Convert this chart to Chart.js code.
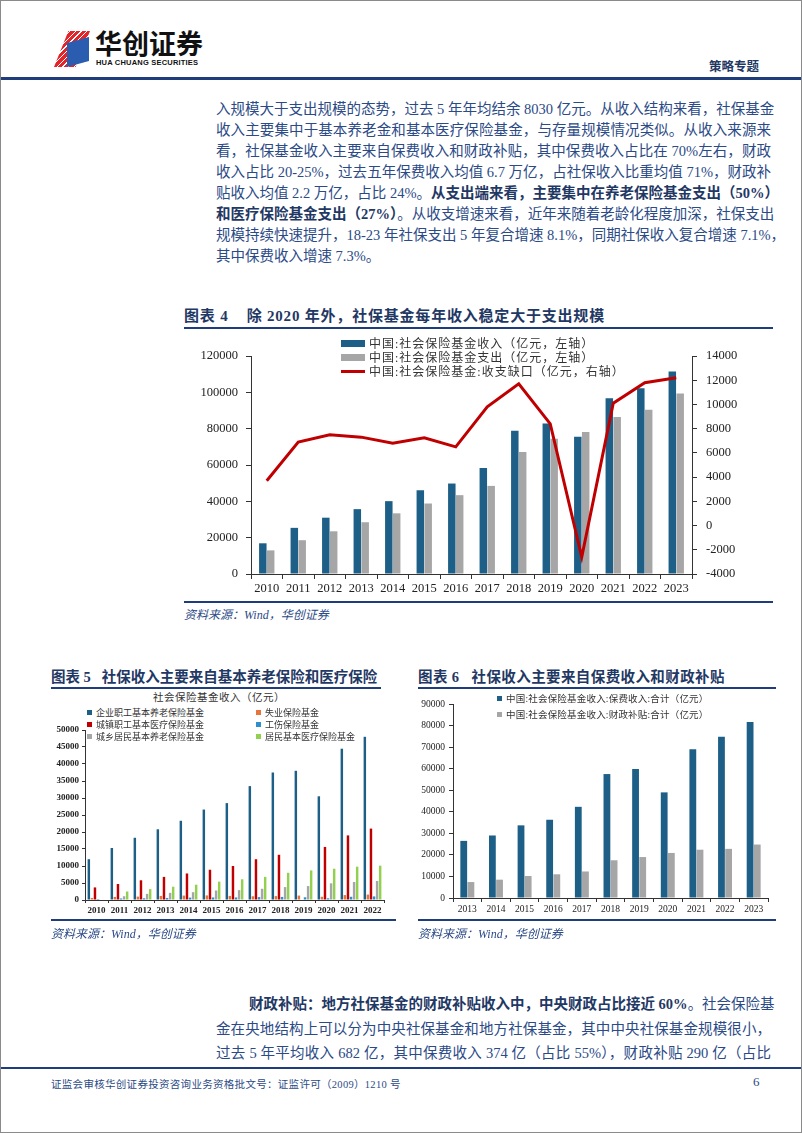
<!DOCTYPE html>
<html lang="zh-CN">
<head>
<meta charset="utf-8">
<script src="https://cdn.jsdelivr.net/npm/chart.js@4.4.1/dist/chart.umd.min.js"></script>
<style>
  html, body { margin: 0; padding: 0; background: #fff; }
  #page {
    position: relative; width: 800px; height: 1131px;
    border: 1px solid #8a8a8a; overflow: hidden;
    font-family: 'Liberation Serif', 'Noto Sans CJK SC', serif;
    color: #2b4a86;
  }
  .abs { position: absolute; white-space: nowrap; }
  .hline { position: absolute; background: #1f3d7a; }
  .linea { position: absolute; left: 215px; width: 555px; font-size: 14.5px; line-height: 20px;
    text-align: justify; text-align-last: justify; white-space: nowrap; }
  .linea.ult { text-align-last: left; }
  .linea b { color: #1f3864; }
  .titulo { position: absolute; font-size: 14.5px; font-weight: bold; color: #1f3864; white-space: nowrap; }
  .fuente { position: absolute; font-size: 12px; font-style: italic; color: #2b4a86; white-space: nowrap; }
  canvas { position: absolute; }
  .ley { position: absolute; white-space: nowrap; color: #333; display: flex; align-items: center; }
  .ley i { display: inline-block; margin-right: 4px; }
</style>
</head>
<body>
<div id="page">
  <!-- Cabecera -->
  <div class="abs" style="left:53px;top:30px;width:36px;height:36px;
    background: repeating-linear-gradient(135deg, #e0262b 0 3px, #fff 3px 4px);
    clip-path: polygon(40% 0, 100% 0, 60% 100%, 0 100%);"></div>
  <div class="abs" style="left:66px;top:36px;width:22px;height:30px;background:#2a5db0;
    clip-path: polygon(0 20%, 100% 0, 100% 80%, 0 100%);"></div>
  <div class="abs" style="left:94px;top:27px;font-size:27px;font-weight:bold;color:#111;letter-spacing:0px;
    font-family:'Noto Sans CJK SC';line-height:30px;">华创证券</div>
  <div class="abs" style="left:95px;top:57px;font-size:7.5px;font-weight:bold;color:#111;
    font-family:'Liberation Sans';letter-spacing:0.2px;">HUA CHUANG SECURITIES</div>
  <div class="abs" style="left:708px;top:55px;font-size:12.5px;font-weight:bold;color:#1f3864;">策略专题</div>
  <div class="hline" style="left:0;top:76px;width:800px;height:3px;"></div>

  <!-- Texto superior -->
  <div class="linea" style="top:98px;">入规模大于支出规模的态势，过去 5 年年均结余 8030 亿元。从收入结构来看，社保基金</div>
  <div class="linea" style="top:119px;">收入主要集中于基本养老金和基本医疗保险基金，与存量规模情况类似。从收入来源来</div>
  <div class="linea" style="top:140px;">看，社保基金收入主要来自保费收入和财政补贴，其中保费收入占比在 70%左右，财政</div>
  <div class="linea" style="top:161px;">收入占比 20-25%，过去五年保费收入均值 6.7 万亿，占社保收入比重均值 71%，财政补</div>
  <div class="linea" style="top:182px;">贴收入均值 2.2 万亿，占比 24%。<b>从支出端来看，主要集中在养老保险基金支出（50%）</b></div>
  <div class="linea" style="top:203px;"><b>和医疗保险基金支出（27%）</b>。从收支增速来看，近年来随着老龄化程度加深，社保支出</div>
  <div class="linea" style="top:224px;">规模持续快速提升，18-23 年社保支出 5 年复合增速 8.1%，同期社保收入复合增速 7.1%，</div>
  <div class="linea ult" style="top:245px;">其中保费收入增速 7.3%。</div>

  <!-- Grafico 4 -->
  <div class="titulo" style="left:183px;top:303px;font-size:15px;letter-spacing:0.8px;">图表 4&nbsp;&nbsp;&nbsp;&nbsp;除 2020 年外，社保基金每年收入稳定大于支出规模</div>
  <div class="hline" style="left:183px;top:326px;width:589px;height:1.5px;"></div>
  <canvas id="grafico4" width="561" height="263" style="left:190px;top:335px;"></canvas>
  <div class="ley" style="left:340px;top:333px;font-size:12px;letter-spacing:1px;"><i style="width:24px;height:7px;background:#1d5f87;"></i>中国:社会保险基金收入（亿元，左轴）</div>
  <div class="ley" style="left:340px;top:347px;font-size:12px;letter-spacing:1px;"><i style="width:24px;height:7px;background:#a6a6a6;"></i>中国:社会保险基金支出（亿元，左轴）</div>
  <div class="ley" style="left:340px;top:361px;font-size:12px;letter-spacing:1px;"><i style="width:24px;height:3px;background:#c00000;"></i>中国:社会保险基金:收支缺口（亿元，右轴）</div>
  <div class="hline" style="left:183px;top:600px;width:589px;height:1.5px;"></div>
  <div class="fuente" style="left:183px;top:604px;">资料来源：Wind，华创证券</div>

  <!-- Grafico 5 -->
  <div class="titulo" style="left:50px;top:664px;">图表 5&nbsp;&nbsp;&nbsp;社保收入主要来自基本养老保险和医疗保险</div>
  <div class="hline" style="left:50px;top:686px;width:330px;height:1.5px;"></div>
  <div class="abs" style="left:152px;top:688px;font-size:10.5px;color:#333;letter-spacing:0.5px;">社会保险基金收入（亿元）</div>
  <canvas id="grafico5" width="345" height="199" style="left:40px;top:720px;"></canvas>
  <div class="ley" style="left:86px;top:705px;font-size:9px;"><i style="width:5px;height:5px;background:#1d5f87;"></i>企业职工基本养老保险基金</div>
  <div class="ley" style="left:86px;top:717px;font-size:9px;"><i style="width:5px;height:5px;background:#c00000;"></i>城镇职工基本医疗保险基金</div>
  <div class="ley" style="left:86px;top:729px;font-size:9px;"><i style="width:5px;height:5px;background:#a6a6a6;"></i>城乡居民基本养老保险基金</div>
  <div class="ley" style="left:255px;top:705px;font-size:9px;"><i style="width:5px;height:5px;background:#e8743b;"></i>失业保险基金</div>
  <div class="ley" style="left:255px;top:717px;font-size:9px;"><i style="width:5px;height:5px;background:#2e8fce;"></i>工伤保险基金</div>
  <div class="ley" style="left:255px;top:729px;font-size:9px;"><i style="width:5px;height:5px;background:#92d050;"></i>居民基本医疗保险基金</div>
  <div class="hline" style="left:50px;top:918px;width:345px;height:1.5px;"></div>
  <div class="fuente" style="left:50px;top:923px;">资料来源：Wind，华创证券</div>

  <!-- Grafico 6 -->
  <div class="titulo" style="left:417px;top:664px;letter-spacing:0.4px;">图表 6&nbsp;&nbsp;&nbsp;社保收入主要来自保费收入和财政补贴</div>
  <div class="hline" style="left:417px;top:686px;width:358px;height:1.5px;"></div>
  <canvas id="grafico6" width="360" height="224" style="left:410px;top:693px;"></canvas>
  <div class="ley" style="left:496px;top:690px;font-size:9.5px;letter-spacing:0.2px;"><i style="width:5px;height:5px;background:#1d5f87;"></i>中国:社会保险基金收入:保费收入:合计（亿元）</div>
  <div class="ley" style="left:496px;top:706px;font-size:9.5px;letter-spacing:0.2px;"><i style="width:5px;height:5px;background:#a6a6a6;"></i>中国:社会保险基金收入:财政补贴:合计（亿元）</div>
  <div class="hline" style="left:417px;top:918px;width:358px;height:1.5px;"></div>
  <div class="fuente" style="left:417px;top:923px;">资料来源：Wind，华创证券</div>

  <!-- Texto inferior -->
  <div class="linea" style="top:993px;left:248px;width:522px;"><b>财政补贴：地方社保基金的财政补贴收入中，中央财政占比接近 60%</b>。社会保险基</div>
  <div class="linea" style="top:1018px;">金在央地结构上可以分为中央社保基金和地方社保基金，其中中央社保基金规模很小，</div>
  <div class="linea" style="top:1042px;">过去 5 年平均收入 682 亿，其中保费收入 374 亿（占比 55%），财政补贴 290 亿（占比</div>

  <!-- Pie de pagina -->
  <div class="hline" style="left:0;top:1066px;width:800px;height:2px;"></div>
  <div class="abs" style="left:50px;top:1075px;font-size:10.5px;color:#2b4a86;letter-spacing:0.3px;">证监会审核华创证券投资咨询业务资格批文号：证监许可（2009）1210 号</div>
  <div class="abs" style="left:752px;top:1073px;font-size:13px;color:#2b4a86;">6</div>
</div>

<script>
// ---- Datos gráfico 4 ----
const anios4 = ['2010','2011','2012','2013','2014','2015','2016','2017','2018','2019','2020','2021','2022','2023'];
const ingresos4 = [16900, 25400, 31000, 35700, 40100, 46100, 49800, 58300, 78800, 82900, 75500, 96700, 102200, 111400];
const gastos4 = [13000, 18600, 23500, 28500, 33400, 38800, 43400, 48500, 67100, 74400, 78100, 86400, 90400, 99300];
const brecha4 = [3700, 6900, 7500, 7300, 6800, 7250, 6500, 9800, 11700, 8400, -2600, 10100, 11800, 12200];

// ---- Datos gráfico 5 ----
const anios5 = ['2010','2011','2012','2013','2014','2015','2016','2017','2018','2019','2020','2021','2022'];
const empresaPension = [12000, 15300, 18300, 20800, 23300, 26600, 28500, 33500, 37500, 38000, 30500, 44500, 48000];
const desempleo = [600, 900, 1000, 1200, 1300, 1350, 1200, 1100, 1150, 1300, 950, 1450, 1600];
const medicoUrbano = [3700, 4700, 5800, 6800, 7800, 8900, 10000, 12000, 13300, null, 15600, 19000, 21000];
const accidentes = [300, 450, 500, 600, 700, 750, 750, 850, 900, 800, 500, 950, 1050];
const pensionRural = [null, 1100, 1800, 2100, 2300, 2800, 2900, 3300, 3800, 4100, 4900, 5300, 5600];
const medicoResidente = [null, 2500, 3200, 3900, 4500, 5400, 6100, 6800, 8000, 8700, 9200, 9800, 10100];

// ---- Datos gráfico 6 ----
const anios6 = ['2013','2014','2015','2016','2017','2018','2019','2020','2021','2022','2023'];
const primas6 = [26500, 29000, 33700, 36300, 42300, 57500, 59800, 49000, 69000, 74800, 81600];
const subsidios6 = [7400, 8500, 10200, 11000, 12300, 17500, 19000, 20900, 22400, 22800, 24800];

const AZUL = '#1d5f87';
const GRIS = '#a6a6a6';
const ROJO = '#c00000';
const fuenteNum = "'Liberation Serif', 'Noto Sans CJK SC', serif";

Chart.defaults.animation = false;
Chart.defaults.font.family = fuenteNum;
Chart.defaults.color = '#222';

// números sin separador de miles
const sinComas = (v) => String(v);

// eje con marcas hacia fuera, sin rejilla
function ejeBase(tickLen, fontSize, bold) {
  return {
    grid: { drawOnChartArea: false, drawTicks: true, tickLength: tickLen, color: '#333', lineWidth: 1 },
    border: { display: true, color: '#333', width: 1 },
    ticks: { color: '#222', font: { size: fontSize, weight: bold ? 'bold' : 'normal' } }
  };
}

// Gráfico 4: barras + línea con doble eje
const e4y = ejeBase(5, 12.5);
const e4y1 = ejeBase(5, 12.5);
const e4x = ejeBase(5, 12.5);
new Chart(document.getElementById('grafico4'), {
  data: {
    labels: anios4,
    datasets: [
      { type: 'line', label: '中国:社会保险基金:收支缺口（亿元，右轴）', data: brecha4, yAxisID: 'y1',
        borderColor: ROJO, backgroundColor: ROJO, borderWidth: 3, pointRadius: 0, tension: 0, order: 0 },
      { type: 'bar', label: '中国:社会保险基金收入（亿元，左轴）', data: ingresos4, yAxisID: 'y',
        backgroundColor: AZUL, barPercentage: 0.95, categoryPercentage: 0.5, order: 1 },
      { type: 'bar', label: '中国:社会保险基金支出（亿元，左轴）', data: gastos4, yAxisID: 'y',
        backgroundColor: GRIS, barPercentage: 0.95, categoryPercentage: 0.5, order: 1 }
    ]
  },
  options: {
    responsive: false,
    layout: { padding: { top: 20, right: 0, left: 0, bottom: 0 } },
    plugins: { legend: { display: false }, tooltip: { enabled: false } },
    scales: {
      x: { ...e4x, ticks: { ...e4x.ticks, padding: 2, maxRotation: 0 },
        afterFit: (s) => { s.height = 25; } },
      y: { ...e4y, position: 'left', min: 0, max: 120000,
        ticks: { ...e4y.ticks, stepSize: 20000, padding: 8, callback: sinComas },
        afterFit: (s) => { s.width = 60; } },
      y1: { ...e4y1, position: 'right', min: -4000, max: 14000,
        ticks: { ...e4y1.ticks, stepSize: 2000, padding: 9, callback: sinComas },
        afterFit: (s) => { s.width = 60; } }
    }
  }
});

// Gráfico 5: seis series de barras
const e5y = ejeBase(3, 9, true);
const e5x = ejeBase(3, 9, true);
const series5 = [
  ['企业职工基本养老保险基金', empresaPension, AZUL],
  ['失业保险基金', desempleo, '#e8743b'],
  ['城镇职工基本医疗保险基金', medicoUrbano, ROJO],
  ['工伤保险基金', accidentes, '#2e8fce'],
  ['城乡居民基本养老保险基金', pensionRural, GRIS],
  ['居民基本医疗保险基金', medicoResidente, '#92d050']
];
new Chart(document.getElementById('grafico5'), {
  type: 'bar',
  data: {
    labels: anios5,
    datasets: series5.map(([label, data, color]) => ({
      label, data, backgroundColor: color, barPercentage: 0.8, categoryPercentage: 0.8
    }))
  },
  options: {
    responsive: false,
    layout: { padding: { top: 9, right: 2, left: 0, bottom: 0 } },
    plugins: { legend: { display: false }, tooltip: { enabled: false } },
    scales: {
      x: { ...e5x, ticks: { ...e5x.ticks, padding: 2, maxRotation: 0 },
        afterFit: (s) => { s.height = 20; } },
      y: { ...e5y, min: 0, max: 50000, ticks: { ...e5y.ticks, stepSize: 5000, padding: 3, callback: sinComas },
        afterFit: (s) => { s.width = 44; } }
    }
  }
});

// Gráfico 6: primas vs subsidios
const e6y = ejeBase(4, 9.5);
const e6x = ejeBase(4, 9.5);
new Chart(document.getElementById('grafico6'), {
  type: 'bar',
  data: {
    labels: anios6,
    datasets: [
      { label: '中国:社会保险基金收入:保费收入:合计（亿元）', data: primas6, backgroundColor: AZUL,
        barPercentage: 0.95, categoryPercentage: 0.5 },
      { label: '中国:社会保险基金收入:财政补贴:合计（亿元）', data: subsidios6, backgroundColor: GRIS,
        barPercentage: 0.95, categoryPercentage: 0.5 }
    ]
  },
  options: {
    responsive: false,
    layout: { padding: { top: 10, right: 3, left: 0, bottom: 0 } },
    plugins: { legend: { display: false }, tooltip: { enabled: false } },
    scales: {
      x: { ...e6x, ticks: { ...e6x.ticks, padding: 2, maxRotation: 0 },
        afterFit: (s) => { s.height = 20; } },
      y: { ...e6y, min: 0, max: 90000, ticks: { ...e6y.ticks, stepSize: 10000, padding: 4, callback: sinComas },
        afterFit: (s) => { s.width = 42; } }
    }
  }
});
</script>
</body>
</html>
